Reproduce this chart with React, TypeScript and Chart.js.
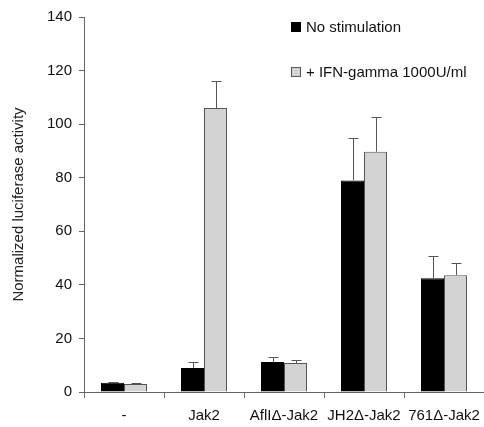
import React, { useEffect, useRef } from "react";
import { Chart, registerables } from "chart.js";

Chart.register(...registerables);

const categories = ["-", "Jak2", "AflIΔ-Jak2", "JH2Δ-Jak2", "761Δ-Jak2"];
const noStimValues = [3.5, 9, 11.2, 79, 42.5];
const noStimErrors = [0.4, 2.2, 1.8, 16, 8.2];
const ifnValues = [3, 106, 10.8, 89.7, 43.6];
const ifnErrors = [0.3, 10.2, 1.2, 13, 4.6];
const yTicks = [0, 20, 40, 60, 80, 100, 120, 140];
const seriesLabels = ["No stimulation", "+ IFN-gamma 1000U/ml"];
const errorSets = [noStimErrors, ifnErrors];

const FONT = "'Liberation Sans', Arial, sans-serif";

const errorBarPlugin = {
  id: "errorBars",
  afterDatasetsDraw(chart: any) {
    const ctx = chart.ctx;
    const yScale = chart.scales.y;
    ctx.save();
    ctx.strokeStyle = "#555";
    ctx.lineWidth = 1;
    chart.data.datasets.forEach((ds: any, di: number) => {
      const meta = chart.getDatasetMeta(di);
      meta.data.forEach((el: any, i: number) => {
        const v = ds.data[i];
        const e = errorSets[di][i];
        const yTop = Math.round(yScale.getPixelForValue(v + e)) + 0.5;
        const x = Math.round(el.x) + 0.5;
        ctx.beginPath();
        ctx.moveTo(x, el.y);
        ctx.lineTo(x, yTop);
        ctx.moveTo(x - 5, yTop);
        ctx.lineTo(x + 5, yTop);
        ctx.stroke();
      });
    });
    ctx.restore();
  },
};

const legendPlugin = {
  id: "customLegend",
  afterDraw(chart: any) {
    const ctx = chart.ctx;
    ctx.save();
    const rows = [27, 72];
    chart.data.datasets.forEach((ds: any, di: number) => {
      const y = rows[di];
      ctx.fillStyle = ds.backgroundColor;
      ctx.fillRect(291, y - 5, 10, 10);
      ctx.strokeStyle = di === 0 ? "#000" : "#555";
      ctx.lineWidth = 1;
      ctx.strokeRect(291.5, y - 4.5, 9, 9);
      ctx.fillStyle = "#111";
      ctx.font = `15px ${FONT}`;
      ctx.textBaseline = "middle";
      ctx.textAlign = "left";
      ctx.fillText(seriesLabels[di], 306, y + 1);
    });
    ctx.restore();
  },
};

export default function App() {
  const ref = useRef<HTMLCanvasElement>(null);
  useEffect(() => {
    if (!ref.current) return;
    const chart = new Chart(ref.current, {
      type: "bar",
      data: {
        labels: categories,
        datasets: [
          {
            label: seriesLabels[0],
            data: noStimValues,
            backgroundColor: "#000000",
            borderColor: "#000000",
            borderWidth: 1,
            categoryPercentage: 0.575,
            barPercentage: 1,
          },
          {
            label: seriesLabels[1],
            data: ifnValues,
            backgroundColor: "#d3d3d3",
            borderColor: "#555555",
            borderWidth: 1,
            categoryPercentage: 0.575,
            barPercentage: 1,
          },
        ],
      },
      options: {
        responsive: false,
        animation: false,
        layout: { padding: { top: 17, left: 0, right: 0, bottom: 0 } },
        plugins: {
          legend: { display: false },
          tooltip: { enabled: false },
        },
        scales: {
          x: {
            offset: true,
            grid: {
              display: true,
              drawOnChartArea: false,
              offset: true,
              tickLength: 6,
              color: "#666",
            },
            border: { color: "#666", width: 1 },
            ticks: {
              autoSkip: false,
              maxRotation: 0,
              minRotation: 0,
              padding: 9,
              color: "#111",
              font: { family: FONT, size: 15 },
            },
            afterFit: (s: any) => {
              s.height = 35;
              s.paddingRight = 0;
              s.paddingLeft = 0;
            },
          },
          y: {
            min: 0,
            max: 140,
            afterBuildTicks: (s: any) => {
              s.ticks = yTicks.map((v) => ({ value: v }));
            },
            grid: {
              display: true,
              drawOnChartArea: false,
              tickLength: 5,
              color: "#666",
            },
            border: { color: "#666", width: 1 },
            ticks: {
              padding: 7,
              color: "#111",
              font: { family: FONT, size: 15 },
            },
            title: {
              display: true,
              text: "Normalized luciferase activity",
              color: "#222",
              font: { family: FONT, size: 15 },
              padding: { top: 10, bottom: 4 },
            },
            afterFit: (s: any) => {
              s.width = 84;
            },
          },
        },
      },
      plugins: [errorBarPlugin, legendPlugin],
    });
    return () => chart.destroy();
  }, []);
  return (
    <div style={{ position: "absolute", left: 0, top: 0, width: 484, height: 427, background: "#fff" }}>
      <canvas ref={ref} width={484} height={427} style={{ display: "block" }} />
    </div>
  );
}
